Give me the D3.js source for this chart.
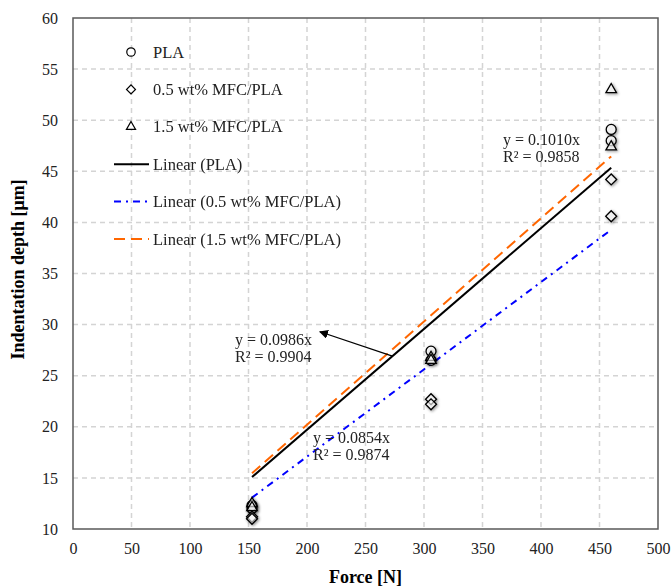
<!DOCTYPE html>
<html>
<head>
<meta charset="utf-8">
<script src="https://cdn.jsdelivr.net/npm/d3@7"></script>
<style>
  body { margin: 0; background: #fff; }
  svg text { font-family: 'Liberation Serif', 'Times New Roman', serif; }
</style>
</head>
<body>
<div class="canvas"></div>
<script>
// data
const forces = [153, 153, 306, 306, 460, 460];
const plaDepth = [12.0, 12.3, 27.4, 26.5, 49.1, 48.0];
const mfc05Depth = [11.2, 11.0, 22.7, 22.2, 44.2, 40.6];
const mfc15Depth = [12.5, 12.1, 26.8, 26.5, 53.0, 47.4];

const seriesNames = ['PLA', '0.5 wt% MFC/PLA', '1.5 wt% MFC/PLA'];
const slopes = [0.0986, 0.0854, 0.1010];
const r2 = [0.9904, 0.9874, 0.9858];
const fitRange = [153, 460];

const xTicks = [0, 50, 100, 150, 200, 250, 300, 350, 400, 450, 500];
const yTicks = [10, 15, 20, 25, 30, 35, 40, 45, 50, 55, 60];

// !-------------------------------graph
const dims = {
  width: 671,
  height: 587,
  left: 73,
  right: 658,
  top: 18,
  bottom: 529,
  fs: 16
};

const svg = d3
  .select('.canvas')
  .append('svg')
  .attr('width', dims.width)
  .attr('height', dims.height);

const x = d3.scaleLinear().domain([0, 500]).range([dims.left, dims.right]);
const y = d3.scaleLinear().domain([10, 60]).range([dims.bottom, dims.top]);

const defs = svg.append('defs');
const shadow = defs.append('filter').attr('id', 'shadow')
  .attr('x', '-50%').attr('y', '-50%').attr('width', '200%').attr('height', '200%');
shadow.append('feGaussianBlur').attr('in', 'SourceAlpha').attr('stdDeviation', 1.5).attr('result', 'b');
shadow.append('feOffset').attr('in', 'b').attr('dx', 1).attr('dy', 1).attr('result', 'o');
shadow.append('feComponentTransfer').attr('in', 'o').attr('result', 'f')
  .append('feFuncA').attr('type', 'linear').attr('slope', 0.5);
const merge = shadow.append('feMerge');
merge.append('feMergeNode').attr('in', 'f');
merge.append('feMergeNode').attr('in', 'SourceGraphic');

defs.append('marker')
  .attr('id', 'arrow')
  .attr('viewBox', '0 0 10 10')
  .attr('refX', 9).attr('refY', 5)
  .attr('markerWidth', 9).attr('markerHeight', 9)
  .attr('markerUnits', 'userSpaceOnUse')
  .attr('orient', 'auto')
  .append('path')
  .attr('d', 'M0,0 L10,5 L0,10 z')
  .attr('fill', '#000');

// gridlines
const grid = svg.append('g');
grid.selectAll('.hgrid')
  .data(yTicks.slice(1, -1))
  .enter().append('line')
  .attr('x1', dims.left).attr('x2', dims.right)
  .attr('y1', d => y(d)).attr('y2', d => y(d))
  .attr('stroke', '#d4d4d4').attr('stroke-width', 1.5)
  .attr('stroke-dasharray', '5,4');
grid.selectAll('.vgrid')
  .data(xTicks.slice(1, -1))
  .enter().append('line')
  .attr('y1', dims.top).attr('y2', dims.bottom)
  .attr('x1', d => x(d)).attr('x2', d => x(d))
  .attr('stroke', '#d4d4d4').attr('stroke-width', 1.5)
  .attr('stroke-dasharray', '5,4');

// frame
svg.append('rect')
  .attr('x', dims.left).attr('y', dims.top)
  .attr('width', dims.right - dims.left).attr('height', dims.bottom - dims.top)
  .attr('fill', 'none').attr('stroke', '#595959').attr('stroke-width', 1.5);

// axes
const xAxis = d3.axisBottom(x).tickValues(xTicks).tickSize(0).tickPadding(14);
const yAxis = d3.axisLeft(y).tickValues(yTicks).tickSize(0).tickPadding(15);

const xAxisGroup = svg.append('g')
  .attr('transform', `translate(0, ${dims.bottom})`)
  .call(xAxis);
const yAxisGroup = svg.append('g')
  .attr('transform', `translate(${dims.left}, 0)`)
  .call(yAxis);

[xAxisGroup, yAxisGroup].forEach(g => {
  g.select('path.domain').remove();
  g.selectAll('text')
    .attr('font-family', 'Liberation Serif')
    .attr('font-size', dims.fs)
    .attr('fill', '#222');
});

// axis titles
svg.append('text')
  .attr('x', (dims.left + dims.right) / 2)
  .attr('y', 583)
  .attr('text-anchor', 'middle')
  .attr('font-size', 18)
  .attr('font-weight', 'bold')
  .text('Force [N]');

svg.append('text')
  .attr('transform', `translate(24, ${(dims.top + dims.bottom) / 2 - 4}) rotate(-90)`)
  .attr('text-anchor', 'middle')
  .attr('font-size', 18)
  .attr('font-weight', 'bold')
  .text('Indentation depth [μm]');

// trendlines
const lineStyles = [
  { color: '#000000', dash: null },
  { color: '#0000ff', dash: '7,5,2,5' },
  { color: '#ff6600', dash: '11,6' }
];

const line = d3.line().x(d => x(d[0])).y(d => y(d[1]));
const fits = slopes.map(s => fitRange.map(f => [f, s * f]));

svg.selectAll('.fit')
  .data(fits)
  .enter().append('path')
  .attr('d', line)
  .attr('fill', 'none')
  .attr('stroke', (d, i) => lineStyles[i].color)
  .attr('stroke-width', 2)
  .attr('stroke-dasharray', (d, i) => lineStyles[i].dash);

// markers
const symbols = [
  d3.symbol().type(d3.symbolCircle).size(78),
  d3.symbol().type(d3.symbolSquare).size(60),
  d3.symbol().type(d3.symbolTriangle).size(48)
];
const rotations = [0, 45, 0];

const allSeries = [plaDepth, mfc05Depth, mfc15Depth];
allSeries.forEach((vals, i) => {
  svg.append('g')
    .attr('filter', 'url(#shadow)')
    .selectAll('path')
    .data(vals.map((v, j) => [forces[j], v]))
    .enter().append('path')
    .attr('d', symbols[i])
    .attr('transform', d => `translate(${x(d[0])}, ${y(d[1])}) rotate(${rotations[i]})`)
    .attr('fill', 'white')
    .attr('fill-opacity', 0.6)
    .attr('stroke', '#000')
    .attr('stroke-width', 1.3);
});

// legend
const legendItems = [
  { label: 'PLA', kind: 'marker', idx: 0 },
  { label: '0.5 wt% MFC/PLA', kind: 'marker', idx: 1 },
  { label: '1.5 wt% MFC/PLA', kind: 'marker', idx: 2 },
  { label: 'Linear (PLA)', kind: 'line', idx: 0 },
  { label: 'Linear (0.5 wt% MFC/PLA)', kind: 'line', idx: 1 },
  { label: 'Linear (1.5 wt% MFC/PLA)', kind: 'line', idx: 2 }
];
const legend = svg.append('g').attr('transform', 'translate(0, 52)');
legendItems.forEach((item, k) => {
  const gy = k * 37.4;
  if (item.kind === 'marker') {
    const sm = d3.symbol().type([d3.symbolCircle, d3.symbolSquare, d3.symbolTriangle][item.idx])
      .size([56, 40, 36][item.idx]);
    legend.append('path')
      .attr('d', sm)
      .attr('transform', `translate(131, ${gy}) rotate(${rotations[item.idx]})`)
      .attr('fill', 'white')
      .attr('stroke', '#000')
      .attr('stroke-width', 1.2);
  } else {
    legend.append('line')
      .attr('x1', 114).attr('x2', 149)
      .attr('y1', gy).attr('y2', gy)
      .attr('stroke', lineStyles[item.idx].color)
      .attr('stroke-width', 2)
      .attr('stroke-dasharray', lineStyles[item.idx].dash);
  }
  legend.append('text')
    .attr('x', 153)
    .attr('y', gy + 5.5)
    .attr('font-size', 16.5)
    .attr('fill', '#222')
    .text(item.label);
});

// equation labels
const eqs = [
  { i: 0, x: 235, y: 345 },
  { i: 1, x: 313, y: 443 },
  { i: 2, x: 503, y: 145 }
];
eqs.forEach(e => {
  const t = svg.append('text')
    .attr('x', e.x).attr('y', e.y)
    .attr('font-size', dims.fs)
    .attr('fill', '#222');
  t.append('tspan').attr('x', e.x).text(`y = ${slopes[e.i].toFixed(4)}x`);
  t.append('tspan').attr('x', e.x).attr('dy', 17).text(`R² = ${r2[e.i].toFixed(4)}`);
});

// arrow from PLA fit to its label
svg.append('line')
  .attr('x1', x(273)).attr('y1', y(slopes[0] * 273))
  .attr('x2', x(211)).attr('y2', y(29.3))
  .attr('stroke', '#000').attr('stroke-width', 1.3)
  .attr('marker-end', 'url(#arrow)');
</script>
</body>
</html>
